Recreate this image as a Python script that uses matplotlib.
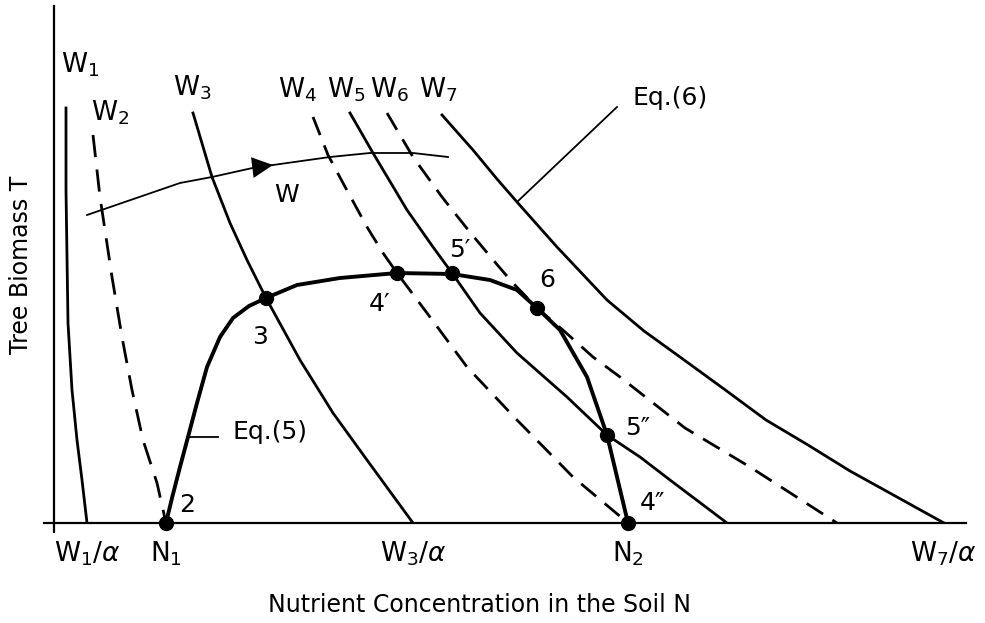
import matplotlib
matplotlib.use("Agg")
import matplotlib.pyplot as plt

plt.rcParams['font.family'] = ['DejaVu Sans']
plt.rcParams['mathtext.fontset'] = 'dejavusans'

# krzywe (N, T), jednostki umowne
w1_n = [12, 12, 13, 14, 18, 23, 28, 33]
w1_t = [415, 333, 266, 200, 133, 83, 43, 0]
w2_n = [39, 46, 49, 58, 68, 78, 89, 103, 112]
w2_t = [388, 326, 306, 246, 186, 133, 83, 40, 0]
w3_n = [139, 158, 176, 193, 212, 246, 279, 313, 359]
w3_t = [410, 346, 300, 263, 225, 163, 110, 63, 0]
w4_n = [259, 274, 289, 313, 329, 343, 373, 413, 463, 519, 574]
w4_t = [406, 368, 340, 296, 270, 250, 210, 156, 103, 46, 0]
w5_n = [296, 319, 353, 379, 398, 426, 463, 513, 553, 586, 616, 673]
w5_t = [410, 370, 313, 276, 250, 210, 170, 126, 88, 66, 43, 0]
w6_n = [333, 359, 388, 415, 440, 458, 483, 510, 539, 566, 631, 696, 783]
w6_t = [410, 366, 326, 292, 262, 241, 215, 192, 166, 146, 95, 56, 0]
w7_n = [388, 419, 443, 463, 503, 553, 590, 626, 670, 712, 754, 796, 843, 890]
w7_t = [408, 373, 344, 321, 276, 223, 192, 166, 134, 103, 78, 52, 26, 0]

eq5_n = [112, 118, 126, 134, 143, 153, 166, 179, 195, 212, 243, 286, 343,
         398, 436, 463, 483, 506, 533, 553, 574]
eq5_t = [0, 25, 56, 86, 120, 156, 186, 205, 217, 225, 238, 245, 250,
         249, 243, 233, 215, 193, 146, 88, 0]

w_n = [33, 126, 158, 203, 219, 276, 316, 359, 394]
w_t = [308, 340, 346, 356, 358, 366, 370, 370, 366]

pkt_n = [112, 212, 343, 398, 483, 553, 574]
pkt_t = [0, 225, 250, 250, 215, 88, 0]
pkt_etykiety = ["2", "3", "4′", "5′", "6", "5″", "4″"]

tick_n = [33, 112, 359, 574, 889]
tick_etykiety = [r"$\mathrm{W}_1/\alpha$", r"$\mathrm{N}_1$", r"$\mathrm{W}_3/\alpha$",
                 r"$\mathrm{N}_2$", r"$\mathrm{W}_7/\alpha$"]

fig = plt.figure(figsize=(9.85, 6.23), dpi=100)
ax = fig.add_axes([44 / 985, 1 - 523 / 623, 922 / 985, 517 / 623])
ax.set_xlim(-10, 912)
ax.set_ylim(0, 517)

for s in ["top", "right"]:
    ax.spines[s].set_visible(False)
ax.spines["left"].set_position(("data", 0))
ax.spines["left"].set_linewidth(1.6)
ax.spines["bottom"].set_linewidth(1.6)
ax.set_yticks([])
ax.set_xticks(tick_n, tick_etykiety, fontsize=19)
ax.set_xticks([0], minor=True)
ax.tick_params(axis="x", which="major", length=0, pad=12)
ax.tick_params(axis="x", which="minor", length=7, width=1.6)

lw = 2.0
ax.plot(w1_n, w1_t, color="black", lw=lw)
ax.plot(w2_n, w2_t, color="black", lw=lw, dashes=(8, 4.5))
ax.plot(w3_n, w3_t, color="black", lw=lw)
ax.plot(w4_n, w4_t, color="black", lw=lw, dashes=(7, 4))
ax.plot(w5_n, w5_t, color="black", lw=lw)
ax.plot(w6_n, w6_t, color="black", lw=lw, dashes=(7, 4))
ax.plot(w7_n, w7_t, color="black", lw=lw)
ax.plot(eq5_n, eq5_t, color="black", lw=2.8, solid_joinstyle="round")
ax.plot(w_n, w_t, color="black", lw=1.3)
ax.annotate("", xy=(w_n[4], w_t[4]), xytext=(w_n[3], w_t[3]),
            arrowprops=dict(arrowstyle="-|>,head_length=0.6,head_width=0.3",
                            mutation_scale=25, color="black", lw=0,
                            shrinkA=0, shrinkB=0))
ax.plot(pkt_n, pkt_t, "o", color="black", markersize=10, clip_on=False)

# etykiety punktów
przes = [(21, 18), (-6, -39), (-17, -31), (8, 23), (10, 28), (31, 7), (24, 20)]
for n, t, e, (dx, dy) in zip(pkt_n, pkt_t, pkt_etykiety, przes):
    ax.text(n + dx, t + dy, e, fontsize=18, ha="center", va="center")

# etykiety krzywych
krzywe = [(26, 458, "1"), (56, 410, "2"), (138, 435, "3"), (244, 433, "4"),
          (292, 433, "5"), (335, 433, "6"), (384, 433, "7")]
for n, t, k in krzywe:
    ax.text(n, t, rf"$\mathrm{{W}}_{k}$", fontsize=19, ha="center", va="center")
ax.text(233, 328, "W", fontsize=18, ha="center", va="center")

ax.plot([563, w7_n[3]], [416, w7_t[3]], color="black", lw=1.3)
ax.text(616, 425, "Eq.(6)", fontsize=18, ha="center", va="center")
ax.plot([133, 164], [86, 86], color="black", lw=1.3)
ax.text(216, 91, "Eq.(5)", fontsize=18, ha="center", va="center")

ax.text(426, -82, "Nutrient Concentration in the Soil N", fontsize=17,
        ha="center", va="center")
ax.text(-33, 258, "Tree Biomass T", fontsize=17, rotation=90,
        ha="center", va="center")

fig.savefig("out.png", dpi=100)
